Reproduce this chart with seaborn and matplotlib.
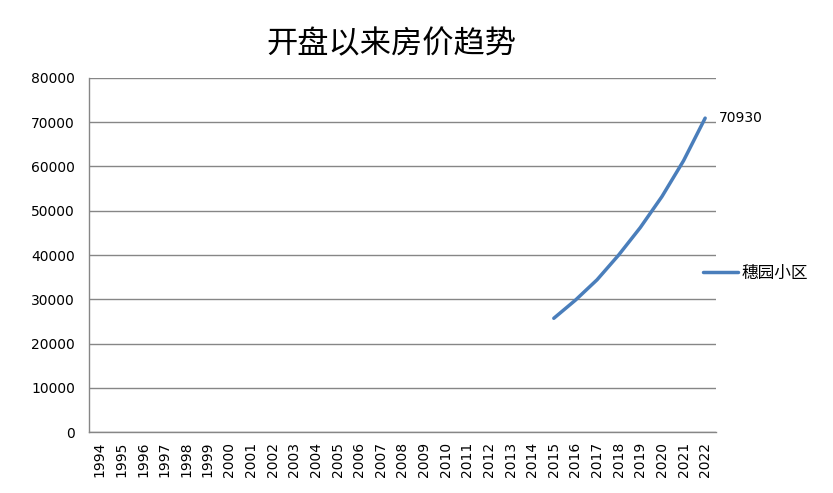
import seaborn as sns
import matplotlib.pyplot as plt
import pandas as pd
from matplotlib.ticker import MultipleLocator

years = [str(y) for y in range(1994, 2023)]
series_years = ["2015", "2016", "2017", "2018", "2019", "2020", "2021", "2022"]
prices = [25700, 29800, 34400, 40000, 46200, 53200, 61300, 70930]
series_name = "穗园小区"
title = "开盘以来房价趋势"

sns.set_style("white")
plt.rcParams['font.family'] = ['DejaVu Sans', 'Noto Sans CJK SC']
plt.rcParams['text.color'] = 'black'
plt.rcParams['xtick.labelcolor'] = 'black'
plt.rcParams['ytick.labelcolor'] = 'black'

df = pd.DataFrame({"year": series_years, "price": prices})
df["pos"] = [years.index(y) for y in df["year"]]

fig = plt.figure(figsize=(8.33, 4.93), dpi=100)
ax = fig.add_axes([0.1068, 0.1237, 0.7527, 0.7181])

sns.lineplot(data=df, x="pos", y="price", ax=ax, color="#4a7ebb",
             linewidth=2.5, label=series_name)

ax.set_xlim(-0.5, len(years) - 0.5)
ax.set_ylim(0, 80000)
ax.yaxis.set_major_locator(MultipleLocator(10000))
ax.grid(axis="y", color="#868686", linewidth=1)
ax.set_axisbelow(True)

ax.set_xticks(range(len(years)))
ax.set_xticklabels(years, rotation=90, fontsize=10)
ax.set_xticks([i - 0.5 for i in range(len(years) + 1)], minor=True)
ax.tick_params(axis="x", which="major", length=0, pad=7, labelcolor="black")
ax.tick_params(axis="x", which="minor", length=5, color="#868686", direction="out")
ax.tick_params(axis="y", length=5, color="#868686", direction="out", labelsize=10, pad=5,
               labelcolor="black")
ax.set_xlabel("")
ax.set_ylabel("")

for s in ["top", "right"]:
    ax.spines[s].set_visible(False)
for s in ["left", "bottom"]:
    ax.spines[s].set_color("#868686")
    ax.spines[s].set_linewidth(1)

last = df.iloc[-1]
ax.annotate(f"{last['price']}", xy=(last["pos"], last["price"]),
            xytext=(10, 0), textcoords="offset points",
            fontsize=10, va="center", ha="left", color="black")

leg = ax.legend(loc="center left", bbox_to_anchor=(0.955, 0.45), frameon=False,
                fontsize=12, handlelength=2.1, handletextpad=0.2, labelcolor="black")

fig.text(0.47, 0.91, title, fontsize=22.5, ha="center", va="center", color="black")

fig.savefig("out.png", dpi=100)
